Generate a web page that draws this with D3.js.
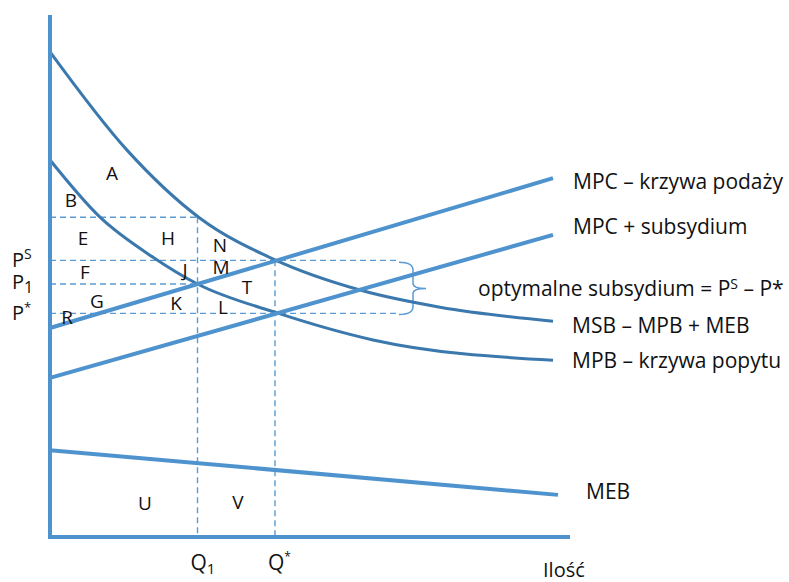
<!DOCTYPE html>
<html>
<head>
<meta charset="utf-8">
<script src="https://cdn.jsdelivr.net/npm/d3@7"></script>
<style>
  body { margin: 0; background: #fff; }
  text { font-family: "Open Sans", sans-serif; fill: #111; }
</style>
</head>
<body>
<svg width="789" height="582"></svg>
<script>
// curves in (quantity, price) units
const msb = [[0, 93.3], [15.4, 74.4], [30, 61.3], [45, 53.3], [62, 47.5], [78, 44.2], [100.6, 41.5]];
const mpb = [[0, 72.5], [10, 61.5], [20.6, 53.8], [29.5, 48.65], [45.4, 43.1], [64.6, 37.9], [100.6, 34.0]];
const mpc = [[0, 40.2], [100.6, 69.0]];
const mpcSub = [[0, 30.6], [100.6, 58.1]];
const meb = [[0, 16.7], [101.6, 8.1]];

const q1 = 29.5, qStar = 45;
const pH = 61.5, pS = 53.2, p1 = 48.65, pStar = 43.0;
const dashEnd = 70;

const regions = [
  ['A', 12.4, 70.0], ['B', 4.2, 64.8], ['E', 6.6, 57.5], ['H', 23.6, 57.5],
  ['N', 34, 56.2], ['F', 7, 51], ['J', 27, 51.3], ['M', 34.2, 51.9],
  ['T', 39.4, 48.1], ['G', 9.4, 45.4], ['K', 25.2, 45], ['L', 34.6, 44.2],
  ['R', 3.4, 42.3], ['U', 19, 6.5], ['V', 37.6, 6.7]
];

const svg = d3.select('svg');

const xScale = d3.scaleLinear().domain([0, 100]).range([50, 550]);
const yScale = d3.scaleLinear().domain([0, 100]).range([537, 17]);

const line = d3.line()
  .x(d => xScale(d[0]))
  .y(d => yScale(d[1]));
const curve = d3.line()
  .x(d => xScale(d[0]))
  .y(d => yScale(d[1]))
  .curve(d3.curveMonotoneX);

const light = '#4f93ce';
const dark = '#3b78ad';
const dash = '#5b9bd5';

// dashed guides
const guides = [
  [[0, pH], [q1, pH]],
  [[0, pS], [dashEnd, pS]],
  [[0, p1], [q1, p1]],
  [[0, pStar], [dashEnd, pStar]],
  [[q1, pH], [q1, 0]],
  [[qStar, pS], [qStar, 0]]
];
svg.selectAll('.guide').data(guides).enter().append('path')
  .attr('class', 'guide')
  .attr('d', line)
  .attr('fill', 'none')
  .attr('stroke', dash)
  .attr('stroke-width', 1.4)
  .attr('stroke-dasharray', '6,4');

// brace
const bx = xScale(dashEnd) + 13, yt = yScale(pS) + 2, yb = yScale(pStar) + 1;
const ym = (yt + yb) / 2;
svg.append('path')
  .attr('d', `M${bx - 14},${yt} Q${bx},${yt} ${bx},${yt + 8} L${bx},${ym - 5} Q${bx},${ym} ${bx + 13},${ym}
              M${bx + 13},${ym} Q${bx},${ym} ${bx},${ym + 5} L${bx},${yb - 8} Q${bx},${yb} ${bx - 14},${yb}`)
  .attr('fill', 'none')
  .attr('stroke', dash)
  .attr('stroke-width', 1.5);

// curves
svg.append('path').attr('d', curve(msb)).attr('fill', 'none').attr('stroke', dark).attr('stroke-width', 3);
svg.append('path').attr('d', curve(mpb)).attr('fill', 'none').attr('stroke', dark).attr('stroke-width', 3);
[mpc, mpcSub, meb].forEach(d => {
  svg.append('path').attr('d', line(d)).attr('fill', 'none').attr('stroke', light).attr('stroke-width', 4);
});

// axes
svg.append('path').attr('d', line([[0, 100.4], [0, 0], [104, 0]]))
  .attr('fill', 'none').attr('stroke', light).attr('stroke-width', 4);

// region letters
svg.selectAll('.region').data(regions).enter().append('text')
  .attr('class', 'region')
  .attr('x', d => xScale(d[1]))
  .attr('y', d => yScale(d[2]))
  .attr('dy', '0.36em')
  .attr('text-anchor', 'middle')
  .style('font-size', '19px')
  .text(d => d[0]);

// price labels
const pLabel = (y, sub, shift, size) => {
  const t = svg.append('text').attr('x', 12).attr('y', y).style('font-size', '20px');
  t.append('tspan').text('P');
  t.append('tspan').attr('dy', shift).style('font-size', size).text(sub);
};
pLabel(yScale(pS) + 7, 'S', -8, '14px');
pLabel(yScale(p1) + 5, '1', 4, '16px');
pLabel(yScale(pStar) + 7, '*', -8, '13px');

// quantity labels
const qLabel = (x, sub, shift, size) => {
  const t = svg.append('text').attr('x', x).attr('y', 570).style('font-size', '21px');
  t.append('tspan').text('Q');
  t.append('tspan').attr('dy', shift).style('font-size', size).text(sub);
};
qLabel(xScale(q1) - 7, '1', 4, '15px');
qLabel(xScale(qStar) - 7, '*', -9, '12px');

svg.append('text').attr('x', 543).attr('y', 577).style('font-size', '20px').text('Ilość');

// curve names
const names = [
  ['MPC – krzywa podaży', 573, 189],
  ['MPC + subsydium', 573, 234],
  ['MSB – MPB + MEB', 572, 333],
  ['MPB – krzywa popytu', 572, 368],
  ['MEB', 586, 499]
];
svg.selectAll('.name').data(names).enter().append('text')
  .attr('class', 'name')
  .attr('x', d => d[1])
  .attr('y', d => d[2])
  .style('font-size', '21px')
  .text(d => d[0]);

const opt = svg.append('text').attr('x', 478).attr('y', 296).style('font-size', '21px');
opt.append('tspan').text('optymalne subsydium = P');
opt.append('tspan').attr('dy', -7).style('font-size', '14px').text('S');
opt.append('tspan').attr('dy', 7).text(' – P*');
</script>
</body>
</html>
